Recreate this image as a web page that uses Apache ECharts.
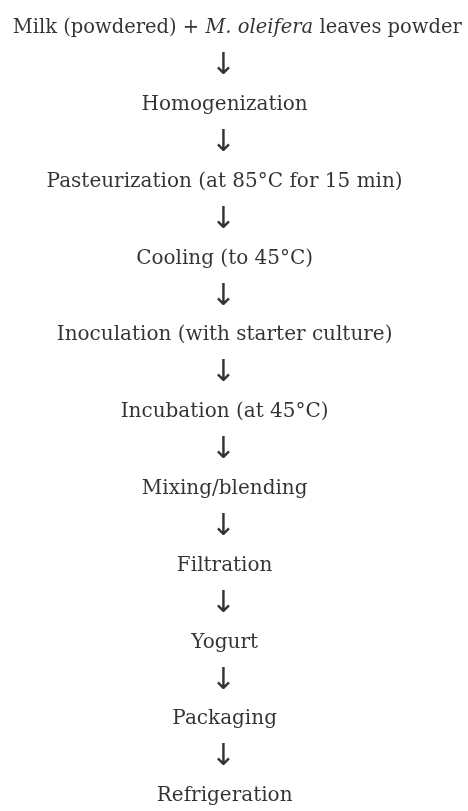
<!DOCTYPE html>
<html>
<head>
<meta charset="utf-8">
<script src="https://cdn.jsdelivr.net/npm/echarts@6/dist/echarts.min.js"></script>
<style>
  html, body { margin: 0; padding: 0; background: #fff; }
  #chart { width: 468px; height: 811px; }
</style>
</head>
<body>
<div id="chart"></div>
<script>
// process steps, top to bottom
const steps = [
  'Milk (powdered) + {i|M. oleifera} leaves powder',
  'Homogenization',
  'Pasteurization (at 85°C for 15 min)',
  'Cooling (to 45°C)',
  'Inoculation (with starter culture)',
  'Incubation (at 45°C)',
  'Mixing/blending',
  'Filtration',
  'Yogurt',
  'Packaging',
  'Refrigeration'
]
const stepPos = [0, 1, 2, 3, 4, 5, 6, 7, 8, 9, 10]
const arrowPos = [0.5, 1.5, 2.5, 3.5, 4.5, 5.5, 6.5, 7.5, 8.5, 9.5]

const serif = 'DejaVu Serif'
const chart = echarts.init(document.getElementById('chart'))

chart.setOption({
  backgroundColor: '#fff',
  animation: false,
  grid: { left: 0, right: 0, top: 28, bottom: 15 },
  xAxis: { type: 'value', min: 0, max: 1, show: false },
  yAxis: { type: 'value', min: 0, max: 10, inverse: true, show: false },
  series: [
    {
      type: 'scatter',
      symbolSize: 0,
      data: stepPos.map((p, i) => ({
        value: [i === 0 ? 0.507 : 0.48, p],
        name: steps[i],
        label: i === 0 ? { fontSize: 19.5 } : undefined
      })),
      label: {
        show: true,
        position: 'inside',
        formatter: (p) => p.name,
        color: '#000',
        fontFamily: serif,
        fontSize: 20,
        rich: {
          i: { fontFamily: serif, fontStyle: 'italic', fontSize: 19.5, color: '#000' }
        }
      },
      emphasis: { disabled: true }
    },
    {
      type: 'scatter',
      symbolSize: 0,
      data: arrowPos.map(p => [0.477, p]),
      label: {
        show: true,
        position: 'inside',
        formatter: '↓',
        color: '#000',
        fontFamily: 'DejaVu Sans',
        fontSize: 30
      },
      emphasis: { disabled: true }
    }
  ]
})
</script>
</body>
</html>
